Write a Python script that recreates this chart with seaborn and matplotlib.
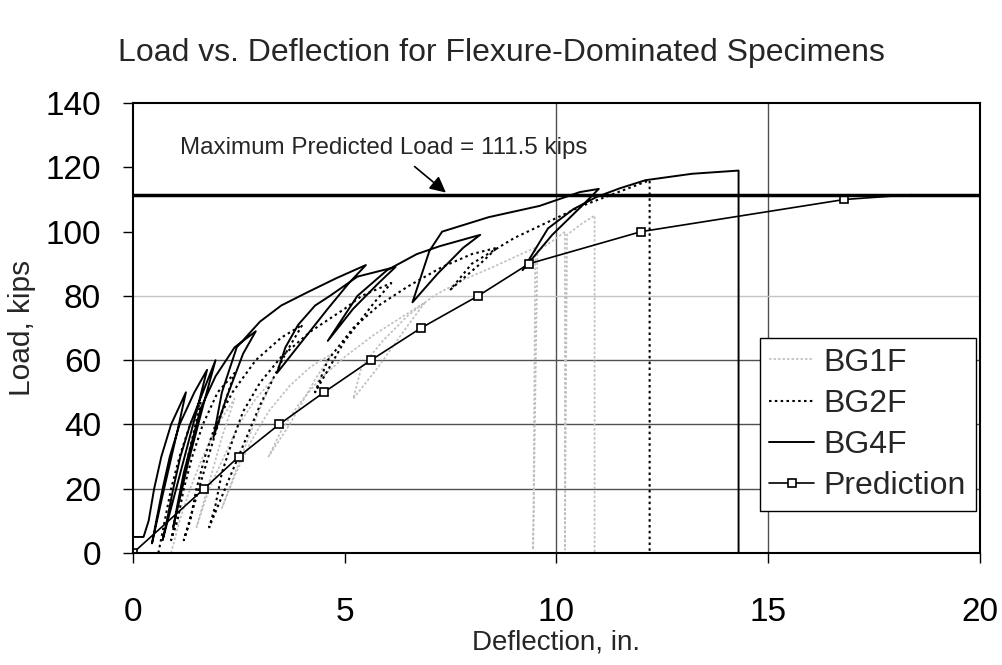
import matplotlib
matplotlib.use("Agg")
import matplotlib.pyplot as plt
import seaborn as sns

# (deflection in., load kips), cycles kept in test order
bg1f_defl = [0.9, 1.1, 1.35, 1.65, 2.0, 2.4,
             2.1, 1.5,
             1.8, 2.15, 2.5, 2.9, 3.3,
             3.0, 2.5, 2.1,
             2.4, 2.8, 3.2, 3.7, 4.2, 4.7,
             4.3, 3.7, 3.2,
             3.5, 3.9, 4.4, 5.0, 5.7, 6.3, 6.9,
             6.5, 5.8, 5.2,
             5.4, 5.9, 6.5, 7.1, 7.8, 8.5, 9.0, 9.5, 9.45,
             9.55, 9.9, 10.2, 10.2,
             10.25, 10.6, 10.9, 10.9]
bg1f_load = [0, 10, 20, 30, 40, 48,
             36, 8,
             20, 30, 40, 48, 54,
             45, 28, 14,
             24, 35, 44, 52, 58, 62,
             54, 40, 30,
             38, 46, 54, 61, 68, 73, 78,
             71, 58, 48,
             58, 66, 74, 80, 85, 89, 92, 95, 1,
             94, 97, 100, 1,
             99, 102.5, 105, 0]

bg2f_defl = [0.6, 0.75, 0.9, 1.1, 1.35, 1.6,
             1.3, 0.9,
             1.05, 1.2, 1.4, 1.65, 2.0, 2.4,
             2.1, 1.6, 1.2,
             1.35, 1.5, 1.7, 1.95, 2.35, 2.9, 3.5, 4.0,
             3.6, 3.0, 2.3, 1.8,
             1.95, 2.1, 2.35, 2.6, 3.0, 3.5, 4.2, 5.0, 5.4, 6.1,
             5.7, 5.0, 4.3,
             4.6, 5.2, 5.8, 6.5, 7.3, 8.0, 8.6,
             8.2, 7.5,
             8.0, 9.0, 9.8, 10.6, 11.4, 12.2, 12.2]
bg2f_load = [0, 10, 20, 30, 40, 47,
             30, 4,
             10, 20, 30, 40, 50, 56,
             44, 22, 4,
             10, 20, 30, 40, 50, 60, 67, 71,
             62, 46, 24, 8,
             15, 25, 35, 44, 53, 61, 69, 76, 80, 84,
             78, 66, 50,
             60, 70, 77, 83, 89, 93, 95,
             90, 82,
             90, 98, 103, 108, 112, 116, 0]

bg4f_defl = [0, 0, 0.25,
             0.37, 0.5, 0.67, 0.9, 1.25,
             1.05, 0.7, 0.45,
             0.55, 0.7, 0.87, 1.1, 1.45, 1.75,
             1.5, 1.1, 0.7,
             0.8, 0.95, 1.12, 1.35, 1.65, 1.95,
             1.7, 1.3, 0.95,
             1.05, 1.2, 1.4, 1.6, 1.95, 2.4, 2.9,
             2.6, 2.2, 1.9,
             2.1, 2.45, 3.0, 3.5, 4.1, 4.8, 5.5,
             5.1, 4.6, 4.0, 3.4,
             3.6, 3.9, 4.3, 4.65, 5.3, 6.2,
             5.8, 5.2, 4.6,
             4.9, 5.3, 6.0, 6.7, 7.25, 8.2,
             7.8, 7.2, 6.6,
             7.0, 7.3, 8.4, 9.6, 10.55, 11.0,
             10.6, 9.9, 9.2,
             9.8, 10.4, 10.95, 11.5, 12.1, 13.2, 14.3, 14.3]
bg4f_load = [0, 5, 5,
             10, 20, 30, 40, 50,
             38, 18, 3,
             10, 20, 30, 40, 50, 57,
             44, 24, 4,
             10, 20, 30, 40, 50, 60,
             48, 28, 8,
             15, 25, 35, 45, 55, 64, 69,
             62, 48, 36,
             50, 64, 72, 77, 81, 85.5, 89.6,
             84, 76, 66, 56,
             64, 71, 77, 80, 86, 89,
             84, 76, 66,
             72, 80, 88, 93, 95.5, 99,
             95, 87, 78,
             94, 100, 104.5, 108, 112.3, 113.3,
             108, 99, 88,
             101, 107, 110.8, 113.5, 116, 118, 119, 0]

pred_defl = [0, 1.68, 2.5, 3.45, 4.51, 5.62, 6.8, 8.15, 9.35, 12.0, 16.8, 18.4]
pred_load = [0, 20, 30, 40, 50, 60, 70, 80, 90, 100, 110, 111.5]

max_pred_load = 111.5

sns.set_style("ticks")
plt.rcParams['font.family'] = ['Liberation Sans', 'DejaVu Sans']

fig, ax = plt.subplots(figsize=(10.02, 6.65), dpi=100)
fig.subplots_adjust(left=0.1327, right=0.978, bottom=0.1684, top=0.845)

sns.lineplot(x=bg1f_defl, y=bg1f_load, sort=False, estimator=None, ax=ax,
             color='#bfbfbf', lw=1.2, linestyle=(0, (1.5, 1.2)), label='BG1F')
sns.lineplot(x=bg2f_defl, y=bg2f_load, sort=False, estimator=None, ax=ax,
             color='black', lw=1.5, linestyle=(0, (1.2, 1.6)), label='BG2F')
sns.lineplot(x=bg4f_defl, y=bg4f_load, sort=False, estimator=None, ax=ax,
             color='black', lw=1.4, label='BG4F')
sns.lineplot(x=pred_defl, y=pred_load, sort=False, estimator=None, ax=ax,
             color='black', lw=1.2, marker='s', markersize=6,
             markerfacecolor='white', markeredgecolor='black', markeredgewidth=1.2,
             markevery=list(range(len(pred_defl) - 1)), label='Prediction')

ax.axhline(max_pred_load, color='black', lw=2.5, zorder=5)
ax.text(1.1, 126, 'Maximum Predicted Load = 111.5 kips', fontsize=17.4,
        ha='left', va='center')
ax.annotate('', xy=(7.44, 111.6), xytext=(6.6, 120.8),
            arrowprops=dict(arrowstyle='-|>', color='black', lw=1.2, mutation_scale=24))

ax.set_xlim(0, 20)
ax.set_ylim(0, 140)
ax.set_xticks([0, 5, 10, 15, 20])
ax.set_yticks(range(0, 141, 20))
ax.grid(True, color='#505050', lw=1)
for tick, gl in zip(ax.get_yticks(), ax.get_ygridlines()):
    if tick in (0, 100, 120, 140):
        gl.set_visible(False)
    if tick == 80:
        gl.set_color('#c4c4c4')
for tick, gl in zip(ax.get_xticks(), ax.get_xgridlines()):
    if tick not in (10, 15):
        gl.set_visible(False)
ax.set_axisbelow(True)

for sp in ax.spines.values():
    sp.set_visible(True)
    sp.set_color('black')
    sp.set_linewidth(1.5)
ax.tick_params(direction='out', length=7, width=1, colors='black', labelsize=24)
ax.tick_params(axis='x', pad=25)
ax.tick_params(axis='y', pad=16)

ax.set_xlabel('Deflection, in.', fontsize=20)
ax.set_ylabel('Load, kips', fontsize=21.5)
ax.xaxis.set_label_coords(0.5, -0.17)
ax.yaxis.set_label_coords(-0.1145, 0.5)

fig.suptitle('Load vs. Deflection for Flexure-Dominated Specimens', fontsize=23, y=0.92, va='center')

leg = ax.legend(loc='upper left', bbox_to_anchor=(0.740, 0.478), borderaxespad=0,
                fontsize=23, frameon=True, fancybox=False, edgecolor='black',
                framealpha=1, handlelength=1.4, handletextpad=0.3,
                labelspacing=0.35, borderpad=0.3)
leg.get_frame().set_linewidth(1.0)

fig.savefig('out.png', dpi=100)
